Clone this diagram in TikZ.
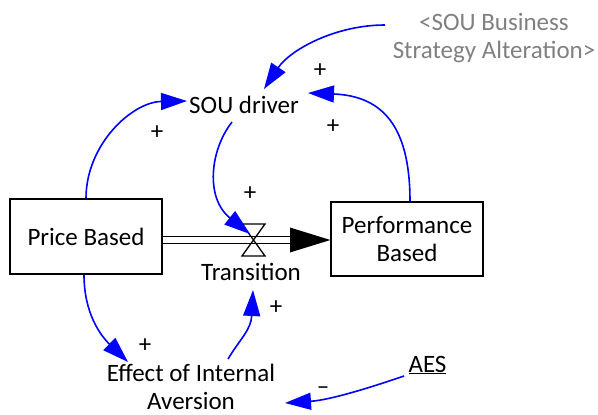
\documentclass[tikz,border=0pt]{standalone}
\usepackage{fontspec}
\setmainfont{Carlito}
\usetikzlibrary{arrows.meta}
\definecolor{sbagray}{RGB}{128,128,128}
\definecolor{linkblue}{RGB}{0,0,255}
\begin{document}
\begin{tikzpicture}[x=1pt,y=-1pt,
  every node/.style={font=\fontsize{25}{28}\selectfont, inner sep=2pt},
  stock/.style={draw, line width=1.2pt, minimum width=152pt, align=center},
  lbl/.style={anchor=base},
  pol/.style={inner sep=0pt},
  link/.style={draw=linkblue, line width=1.6pt, -{Triangle[length=26pt,width=17pt]}, fill=none},
  pipe/.style={double, double distance=5.6pt, line width=1pt}
]
\useasboundingbox (0,0) rectangle (598,415);

% stocks
\node[stock, minimum height=75pt] (pb) at (86,236.5) {Price Based};
\node[stock, minimum height=74pt] (perf) at (407,239) {Performance\\Based};

% variables
\node[lbl] (sou) at (244,113) {SOU driver};
\node[lbl] (trans) at (251,280) {Transition};
\node[lbl] (aes) at (427.5,372) {\underline{AES}};
\node[align=center, text=sbagray] (sba) at (494,38) {<SOU Business\\Strategy Alteration>};
\node[align=center, inner sep=0pt] (eff) at (191,387) {Effect of Internal\\Aversion};

% flow pipe with valve
\coordinate (valve) at (253.5,240);
\coordinate (ahb) at (290,240);
\draw[pipe] (pb.east |- ahb) -- (ahb);
\fill (ahb) ++(0,-12.5) -- (perf.west |- ahb) -- ([shift={(0,12.5)}]ahb) -- cycle;
\draw[line width=1.3pt, line join=miter] (valve) ++(-11.5,-16) -- ++(23,0) -- ++(-23,32) -- ++(23,0) -- cycle;

% causal links
\draw[link] (pb.north) .. controls +(0,-54) and +(-55,1) .. ([shift={(-57,-12)}]sou.base);
\draw[link] ([shift={(-109,-13)}]sba.center) .. controls +(-50,0) and +(26,-39) .. ([shift={(20,-24)}]sou.base);
\draw[link] ([shift={(3,0)}]perf.north) .. controls +(0,-72) and +(77,3) .. ([shift={(64,-20)}]sou.base);
\draw[link] ([shift={(-12,9)}]sou.base) .. controls +(-22,28) and +(-45,-36) .. ([shift={(-3.5,-6)}]valve);
\draw[link] ([shift={(-2,0)}]pb.south) .. controls +(0,38) and +(-28,-27) .. ([shift={(-63,-25)}]eff.center);
\draw[link] ([shift={(37,-28)}]eff.center) .. controls +(12,-20) and +(-2,40) .. ([shift={(2,10)}]trans.base);
\draw[link] ([shift={(-23.5,4)}]aes.base) .. controls +(-35,12) and +(45,-3) .. ([shift={(94,16)}]eff.center);

% polarities
\node[pol] (p1) at (157,133) {+};
\node[pol] (p2) at (320,71) {+};
\node[pol] (p3) at (333,127) {+};
\node[pol] (p4) at (250,194) {+};
\node[pol] (p5) at (145,346) {+};
\node[pol] (p6) at (276,308) {+};
\node[pol] (p7) at (323,391) {–};
\end{tikzpicture}
\end{document}
